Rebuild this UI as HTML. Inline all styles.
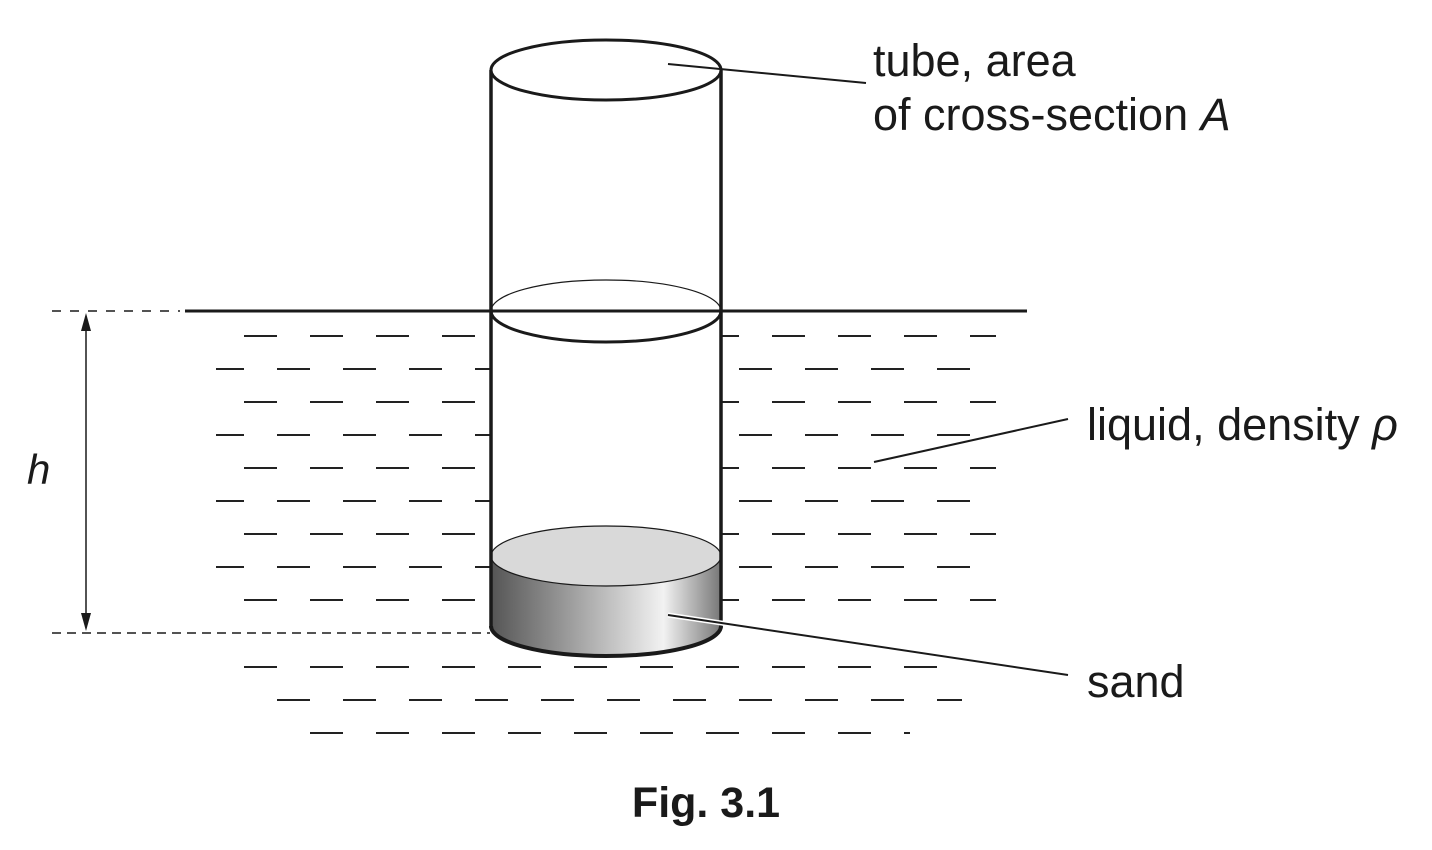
<!DOCTYPE html>
<html><head><meta charset="utf-8"><style>
body{margin:0;background:#fff}
svg{display:block}
text{font-family:"Liberation Sans",Arial,sans-serif;fill:#1a1a1a}
</style></head><body>
<svg width="1432" height="850" viewBox="0 0 1432 850">
<defs>
<linearGradient id="sg" x1="0" x2="1" y1="0" y2="0">
<stop offset="0" stop-color="#555"/><stop offset="0.75" stop-color="#f2f2f2"/><stop offset="1" stop-color="#777"/>
</linearGradient>
<clipPath id="cl"><rect x="216" y="320" width="781" height="430"/></clipPath>
</defs>
<g id="dashes" stroke="#222" stroke-width="2" clip-path="url(#cl)"></g>
<rect x="491" y="312" width="230" height="320" fill="#fff"/>
<line x1="185" y1="311" x2="1027" y2="311" stroke="#1a1a1a" stroke-width="3"/>
<line x1="52" y1="311" x2="180" y2="311" stroke="#1a1a1a" stroke-width="1.5" stroke-dasharray="9,9"/>
<line x1="52" y1="633" x2="490" y2="633" stroke="#1a1a1a" stroke-width="1.5" stroke-dasharray="9,6"/>
<g>
<path d="M491,556 L491,626 A115,30 0 0 0 721,626 L721,556 Z" fill="url(#sg)" stroke="#1a1a1a" stroke-width="1.5"/>
<ellipse cx="606" cy="556" rx="115" ry="30" fill="#d9d9d9" stroke="#1a1a1a" stroke-width="1.2"/>
<path d="M491,626 A115,30 0 0 0 721,626" fill="none" stroke="#1a1a1a" stroke-width="4"/>
</g>
<g fill="none" stroke="#1a1a1a">
<line x1="491" y1="70" x2="491" y2="628" stroke-width="3.5"/>
<line x1="721" y1="70" x2="721" y2="628" stroke-width="3.5"/>
<ellipse cx="606" cy="70" rx="115" ry="30" stroke-width="3" fill="#fff"/>
<path d="M491,311 A115,31 0 0 1 721,311" stroke-width="1.2"/>
<path d="M491,311 A115,31 0 0 0 721,311" stroke-width="3"/>
</g>
<g>
<line x1="86" y1="325" x2="86" y2="620" stroke="#1a1a1a" stroke-width="1.5"/>
<path d="M86,313 L81,331 L91,331 Z" fill="#1a1a1a"/>
<path d="M86,631 L81,613 L91,613 Z" fill="#1a1a1a"/>
</g>
<text x="27" y="484" font-size="42" font-style="italic">h</text>
<line x1="668" y1="64" x2="866" y2="83" stroke="#1a1a1a" stroke-width="2"/>
<line x1="874" y1="462" x2="1068" y2="419" stroke="#1a1a1a" stroke-width="2"/>
<line x1="668" y1="615" x2="1068" y2="675" stroke="#fff" stroke-width="5"/>
<line x1="668" y1="615" x2="1068" y2="675" stroke="#1a1a1a" stroke-width="2"/>
<text x="873" y="76" font-size="45">tube, area</text>
<text x="873" y="130" font-size="45">of cross-section <tspan font-style="italic">A</tspan></text>
<text x="1087" y="440" font-size="45">liquid, density <tspan font-style="italic">ρ</tspan></text>
<text x="1087" y="697" font-size="45">sand</text>
<text x="706" y="817" font-size="43" font-weight="bold" text-anchor="middle">Fig. 3.1</text>
</svg>
<script>
const rowYs=[336,369,402,435,468,501,534,567,600,667,700,733];
const rowStarts=[244,211,244,211,244,211,244,211,244,244,277,310];
const rowEnds=[996,975,996,975,996,975,996,975,996,940,962,910];
const g=document.getElementById('dashes');
rowYs.forEach((y,i)=>{
  for(let x=rowStarts[i];x<rowEnds[i];x+=66){
    const l=document.createElementNS('http://www.w3.org/2000/svg','line');
    l.setAttribute('x1',x);l.setAttribute('x2',Math.min(x+33,rowEnds[i]));
    l.setAttribute('y1',y);l.setAttribute('y2',y);
    
    
    g.appendChild(l);
  }
});
</script>
</body></html>
